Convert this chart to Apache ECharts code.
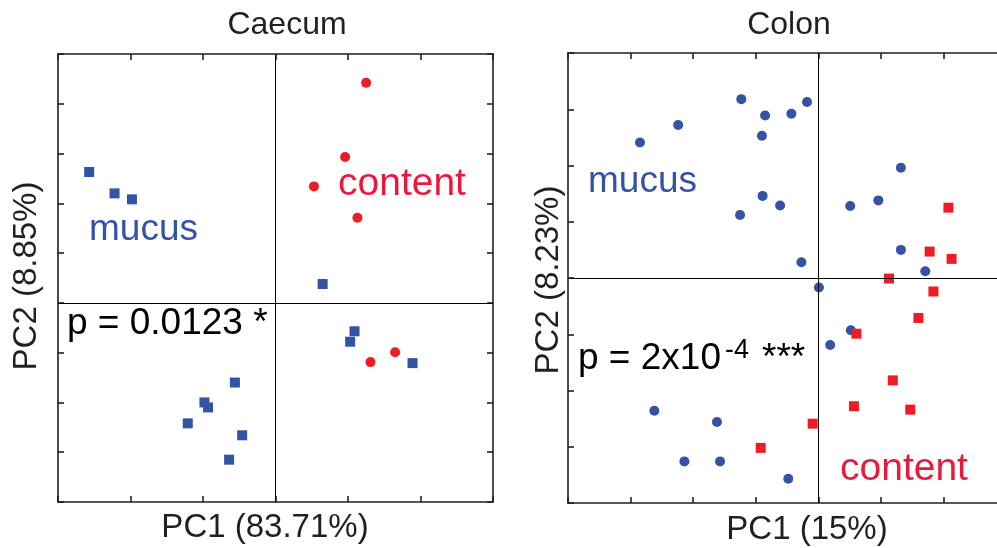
<!DOCTYPE html>
<html>
<head>
<meta charset="utf-8">
<script src="https://cdn.jsdelivr.net/npm/echarts@6/dist/echarts.min.js"></script>
<style>html,body{margin:0;padding:0;background:#fff;}#c{width:997px;height:548px;}</style>
</head>
<body>
<div id="c"></div>
<script>
// ---- data ----
var caecumMucusX = [-2.57, -2.22, -1.98, 0.65, 1.09, 1.03, 1.89, -0.56, -0.98, -0.93, -1.21, -0.46, -0.64];
var caecumMucusY = [2.63, 2.20, 2.08, 0.38, -0.57, -0.78, -1.21, -1.60, -2.00, -2.10, -2.42, -2.66, -3.15];
var caecumContentX = [1.25, 0.96, 0.53, 1.13, 1.65, 1.31];
var caecumContentY = [4.42, 2.93, 2.34, 1.71, -0.99, -1.19];
var colonMucusX = [-1.23, -0.18, -0.85, -0.43, -2.24, -2.85, -0.90, 1.32, -0.89, -0.61, -1.25, 0.51, 0.96, 1.32, -0.27, 1.71, 0.01, 0.52, 0.19, -2.62, -1.62, -2.14, -1.57, -0.48];
var colonMucusY = [3.18, 3.13, 2.89, 2.92, 2.72, 2.41, 2.53, 1.96, 1.46, 1.29, 1.12, 1.28, 1.38, 0.50, 0.28, 0.12, -0.17, -0.93, -1.19, -2.36, -2.56, -3.26, -3.26, -3.57];
var colonContentX = [2.08, 1.78, 2.13, 1.13, 1.84, 1.60, 0.61, 1.19, 0.57, 1.47, -0.09, -0.92];
var colonContentY = [1.25, 0.47, 0.34, -0.01, -0.24, -0.71, -0.99, -1.82, -2.28, -2.34, -2.59, -3.02];
var panelTitles = ['Caecum', 'Colon'];
var xNames = ['PC1 (83.71%)', 'PC1 (15%)'];
var yNames = ['PC2 (8.85%)', 'PC2 (8.23%)'];

function zip(xs, ys) { return xs.map(function (x, i) { return [x, ys[i]]; }); }

var BLUE = '#3553a4', RED = '#ee1d25', RED_TXT = '#e9193d', AX = '#231f20';
var FONT = '"Liberation Sans", Arial, Helvetica, sans-serif';

function xAx(gi, pos, min, max) {
  return {
    type: 'value', gridIndex: gi, position: pos, min: min, max: max, interval: 1,
    axisLine: { show: true, onZero: false, lineStyle: { color: AX, width: 1.6 } },
    axisTick: { show: true, inside: true, length: 6, lineStyle: { color: AX, width: 1.6 } },
    axisLabel: { show: false }, splitLine: { show: false }
  };
}
function yAx(gi, pos, min, max) {
  return {
    type: 'value', gridIndex: gi, position: pos, min: min, max: max, interval: 1,
    axisLine: { show: true, onZero: false, lineStyle: { color: AX, width: 1.6 } },
    axisTick: { show: true, inside: true, length: 6, lineStyle: { color: AX, width: 1.6 } },
    axisLabel: { show: false }, splitLine: { show: false }
  };
}
var zeroLines = {
  silent: true, symbol: 'none', label: { show: false },
  lineStyle: { color: '#000', width: 1, type: 'solid' },
  emphasis: { disabled: true },
  data: [{ xAxis: 0 }, { yAxis: 0 }]
};

var chart = echarts.init(document.getElementById('c'), null, { renderer: 'canvas' });
chart.setOption({
  animation: false,
  backgroundColor: '#fff',
  grid: [
    { left: 58, top: 54, width: 435, height: 448, outerBoundsMode: 'none', containLabel: false },
    { left: 568, top: 53, width: 438, height: 450, outerBoundsMode: 'none', containLabel: false }
  ],
  xAxis: [
    xAx(0, 'bottom', -3, 3), xAx(0, 'top', -3, 3),
    xAx(1, 'bottom', -4, 3), xAx(1, 'top', -4, 3)
  ],
  yAxis: [
    yAx(0, 'left', -4, 5), yAx(0, 'right', -4, 5),
    yAx(1, 'left', -4, 4)
  ],
  series: [
    { type: 'scatter', xAxisIndex: 0, yAxisIndex: 0, symbol: 'rect', symbolSize: 10,
      itemStyle: { color: BLUE, opacity: 1 }, data: zip(caecumMucusX, caecumMucusY), markLine: zeroLines, z: 3 },
    { type: 'scatter', xAxisIndex: 0, yAxisIndex: 0, symbol: 'circle', symbolSize: 10,
      itemStyle: { color: RED, opacity: 1 }, data: zip(caecumContentX, caecumContentY), z: 4 },
    { type: 'scatter', xAxisIndex: 2, yAxisIndex: 2, symbol: 'circle', symbolSize: 10,
      itemStyle: { color: BLUE, opacity: 1 }, data: zip(colonMucusX, colonMucusY), markLine: zeroLines, z: 3 },
    { type: 'scatter', xAxisIndex: 2, yAxisIndex: 2, symbol: 'rect', symbolSize: 10,
      itemStyle: { color: RED, opacity: 1 }, data: zip(colonContentX, colonContentY), z: 4 }
  ],
  graphic: [
    { type: 'text', x: 287, y: 25, style: { text: panelTitles[0], font: '32px ' + FONT, fill: '#231f20', align: 'center', verticalAlign: 'middle' } },
    { type: 'text', x: 789, y: 25, style: { text: panelTitles[1], font: '32px ' + FONT, fill: '#231f20', align: 'center', verticalAlign: 'middle' } },
    { type: 'text', x: 265, y: 528, style: { text: xNames[0], font: '33px ' + FONT, fill: '#231f20', align: 'center', verticalAlign: 'middle' } },
    { type: 'text', x: 807, y: 530, style: { text: xNames[1], font: '33px ' + FONT, fill: '#231f20', align: 'center', verticalAlign: 'middle' } },
    { type: 'text', x: 27, y: 276, rotation: Math.PI / 2, style: { text: yNames[0], font: '33px ' + FONT, fill: '#231f20', align: 'center', verticalAlign: 'middle' } },
    { type: 'text', x: 549, y: 280, rotation: Math.PI / 2, style: { text: yNames[1], font: '33px ' + FONT, fill: '#231f20', align: 'center', verticalAlign: 'middle' } },
    { type: 'text', x: 89, y: 230, style: { text: 'mucus', font: '37px ' + FONT, fill: BLUE, align: 'left', verticalAlign: 'middle' } },
    { type: 'text', x: 338, y: 184, style: { text: 'content', font: '39px ' + FONT, fill: RED_TXT, align: 'left', verticalAlign: 'middle' } },
    { type: 'text', x: 67, y: 324, style: { text: 'p = 0.0123 *', font: '37px ' + FONT, fill: '#000', align: 'left', verticalAlign: 'middle' } },
    { type: 'text', x: 588, y: 182, style: { text: 'mucus', font: '37px ' + FONT, fill: BLUE, align: 'left', verticalAlign: 'middle' } },
    { type: 'text', x: 840, y: 469, style: { text: 'content', font: '39px ' + FONT, fill: RED_TXT, align: 'left', verticalAlign: 'middle' } },
    { type: 'text', x: 578, y: 359, style: { text: 'p = 2x10', font: '37px ' + FONT, fill: '#000', align: 'left', verticalAlign: 'middle' } },
    { type: 'text', x: 725, y: 351, style: { text: '-4', font: '27px ' + FONT, fill: '#000', align: 'left', verticalAlign: 'middle' } },
    { type: 'text', x: 762, y: 359, style: { text: '***', font: '37px ' + FONT, fill: '#000', align: 'left', verticalAlign: 'middle' } }
  ]
});
</script>
</body>
</html>
